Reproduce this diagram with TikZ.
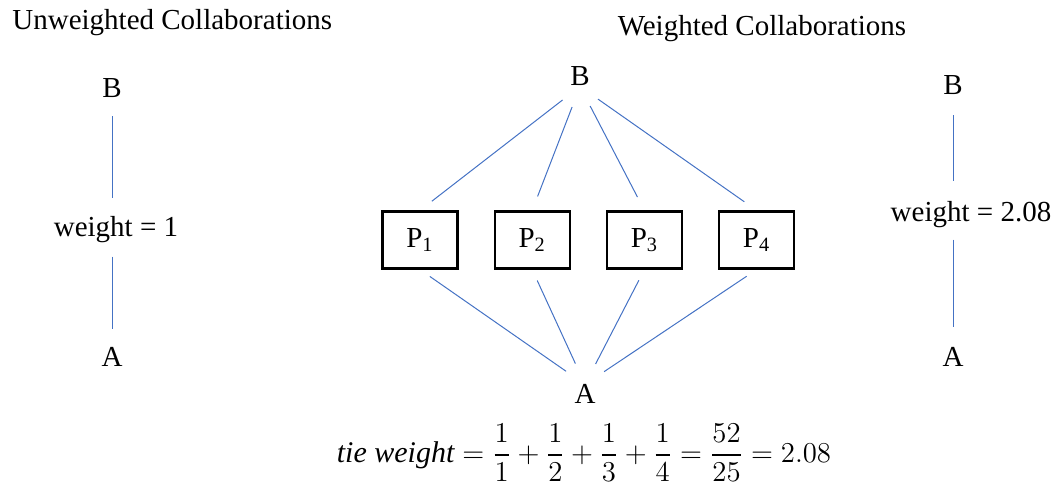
\documentclass[tikz,border=0pt]{standalone}
\usepackage{amsmath,amssymb}
\usepackage{fontspec}
\setmainfont{Liberation Serif}
\usepackage{xcolor}
\usepackage{tikz}
\usetikzlibrary{positioning}

\definecolor{linkblue}{RGB}{68,114,196}

\begin{document}
\begin{tikzpicture}[
    x=0.5pt, y=-0.5pt,
    font=\fontsize{14.5}{17}\selectfont,
    lbl/.style={inner sep=0pt, anchor=base},
    box/.style={rectangle, draw, line width=1.1pt, minimum width=37.5pt, minimum height=28.5pt, inner sep=0pt},
    link/.style={draw=linkblue, line width=0.5pt, shorten <=9pt, shorten >=9pt}
]
\useasboundingbox (0,0) rectangle (1056,486);

% left: unweighted
\node[lbl, anchor=base west] (titleL) at (12,30) {Unweighted Collaborations};
\node[lbl] (bL) at (112,98) {B};
\node[lbl] (wL) at (116,237) {weight = 1};
\node[lbl] (aL) at (112,367) {A};

\draw[link] (bL.south) -- (bL.south |- wL.north);
\draw[link, shorten <=6.5pt] (aL.north |- wL.south) -- (aL.north);

% middle: papers between the two authors
\node[lbl] (titleR) at (762,36) {Weighted Collaborations};
\node[lbl] (b) at (580,86) {B};
\node[box] (p1) at (420,240) {P\textsubscript{1}};
\node[box, right=17.5pt of p1] (p2) {P\textsubscript{2}};
\node[box, right=17.5pt of p2] (p3) {P\textsubscript{3}};
\node[box, right=17.5pt of p3] (p4) {P\textsubscript{4}};
\node[lbl] (a) at (585,404) {A};

\draw[link, shorten <=11pt, shorten >=7.5pt] (b.south) -- (p1.north);
\draw[link, shorten <=11pt, shorten >=7.5pt] (b.south) -- (p2.north);
\draw[link, shorten <=11pt, shorten >=7.5pt] (b.south) -- (p3.north);
\draw[link, shorten <=11pt, shorten >=7.5pt] (b.south) -- (p4.north);
\draw[link, shorten <=6pt, shorten >=11.5pt] (p1.south) -- (a.north);
\draw[link, shorten <=6pt, shorten >=11.5pt] (p2.south) -- (a.north);
\draw[link, shorten <=6pt, shorten >=11.5pt] (p3.south) -- (a.north);
\draw[link, shorten <=6pt, shorten >=11.5pt] (p4.south) -- (a.north);

\node[inner sep=0pt, font=\fontsize{15}{18}\selectfont] (form) at (584,453)
  {$\mathit{tie}\ \mathit{weight} = \dfrac{1}{1} + \dfrac{1}{2} + \dfrac{1}{3} + \dfrac{1}{4} = \dfrac{52}{25} = 2.08$};

% right: weighted
\node[lbl] (bR) at (953,95) {B};
\node[lbl] (wR) at (971,222) {weight = 2.08};
\node[lbl] (aR) at (953,367) {A};

\draw[link, shorten <=10pt, shorten >=10pt] (bR.south) -- (bR.south |- wR.north);
\draw[link, shorten <=5.5pt, shorten >=10pt] (aR.north |- wR.south) -- (aR.north);
\end{tikzpicture}
\end{document}
